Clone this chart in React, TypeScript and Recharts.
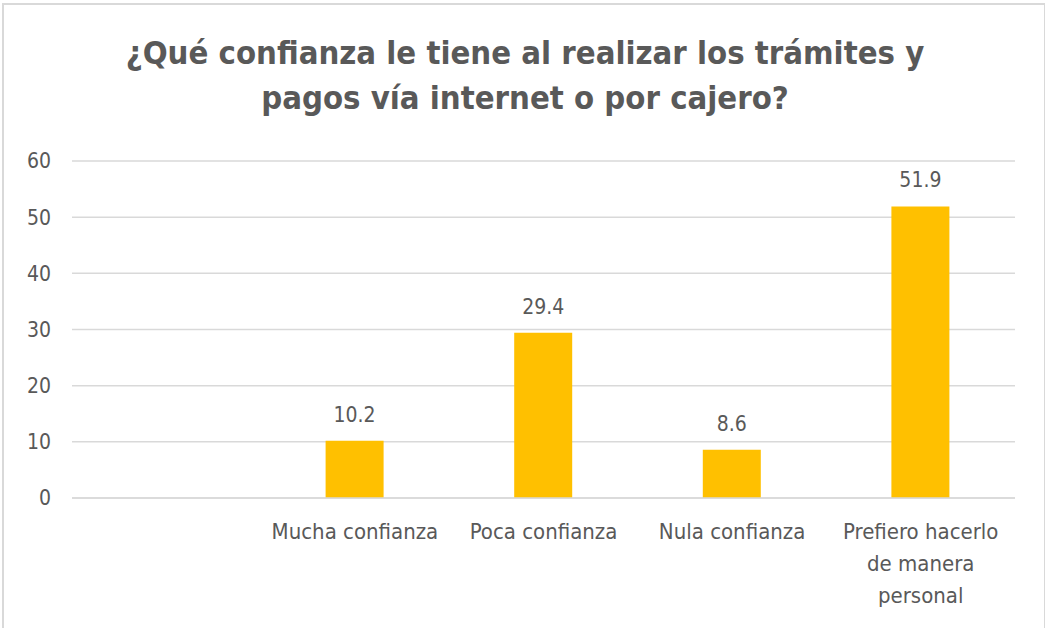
import { BarChart, Bar, XAxis, YAxis, CartesianGrid, LabelList } from "recharts";

const categories = ["", "Mucha confianza", "Poca confianza", "Nula confianza", "Prefiero hacerlo de manera personal"];
const values: (number | null)[] = [null, 10.2, 29.4, 8.6, 51.9];
const yTicks = [0, 10, 20, 30, 40, 50, 60];
// how the long category labels wrap
const tickLines: Record<string, string[]> = {
  "Prefiero hacerlo de manera personal": ["Prefiero hacerlo", "de manera", "personal"],
};

const data = categories.map((c, i) => ({ name: c, value: values[i] }));

const FONT = "'Liberation Sans Narrow', 'DejaVu Sans Condensed', sans-serif";
const TEXT = "#595959";

const CategoryTick = (props: any) => {
  const { x, y, payload } = props;
  const lines = tickLines[payload.value] || [payload.value];
  return (
    <g transform={`translate(${x},${y})`}>
      {lines.map((l: string, i: number) => (
        <text key={i} x={0} y={33 + i * 32} textAnchor="middle" fill={TEXT} fontSize={22} fontFamily={FONT}>
          {l}
        </text>
      ))}
    </g>
  );
};

const App = () => {
  return (
    <div style={{ position: "absolute", left: 0, top: 0, width: 1046, height: 628, background: "#fff" }}>
      <div
        style={{
          position: "absolute",
          left: 2,
          top: 3,
          width: 1040,
          height: 630,
          borderLeft: "2px solid #d9d9d9",
          borderTop: "2px solid #d9d9d9",
          borderRight: "1px solid #d9d9d9",
        }}
      />
      <div
        style={{
          position: "absolute",
          left: 0,
          top: 31,
          width: 1050,
          textAlign: "center",
          fontFamily: FONT,
          fontWeight: "bold",
          fontSize: 32.6,
          lineHeight: "45px",
          color: TEXT,
        }}
      >
        ¿Qué confianza le tiene al realizar los trámites y
        <br />
        pagos vía internet o por cajero?
      </div>
      <BarChart
        width={1046}
        height={628}
        data={data}
        margin={{ top: 161, right: 31, bottom: 100, left: 12 }}
        barSize={58}
        style={{ position: "absolute", left: 0, top: 0 }}
      >
        <CartesianGrid vertical={false} stroke="#d9d9d9" strokeWidth={1.5} />
        <XAxis
          dataKey="name"
          height={30}
          axisLine={{ stroke: "#d9d9d9", strokeWidth: 1.5 }}
          tickLine={false}
          interval={0}
          tick={<CategoryTick />}
        />
        <YAxis
          width={60}
          domain={[0, 60]}
          ticks={yTicks}
          axisLine={false}
          tickLine={false}
          tick={{ fill: TEXT, fontSize: 21, fontFamily: FONT }}
          tickMargin={15}
        />
        <Bar dataKey="value" fill="#FFC000" isAnimationActive={false}>
          <LabelList
            dataKey="value"
            position="top"
            offset={19}
            fill={TEXT}
            fontSize={21}
            fontFamily={FONT}
          />
        </Bar>
      </BarChart>
    </div>
  );
};

export default App;
